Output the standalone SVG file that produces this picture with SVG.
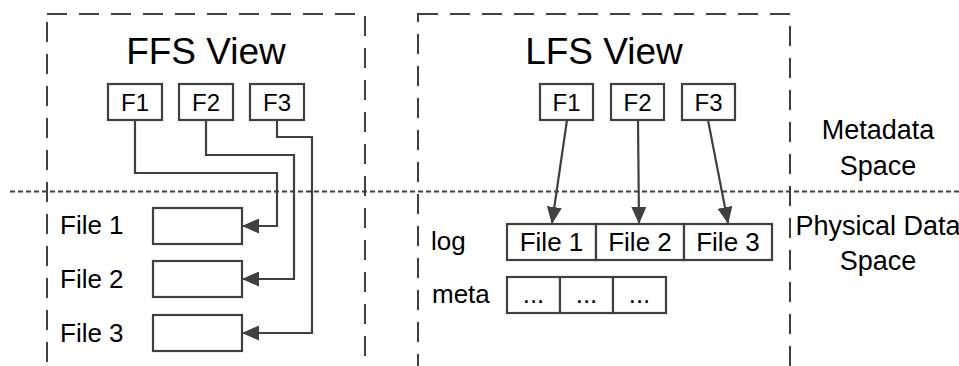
<svg xmlns="http://www.w3.org/2000/svg" width="959" height="366" viewBox="0 0 959 366">
  <style>
    text { font-family: "Liberation Sans", Arial, sans-serif; fill: #000; }
    .title { font-size: 37px; text-anchor: middle; }
    .fl { font-size: 24px; text-anchor: middle; }
    .lbl { font-size: 26px; }
    .side { font-size: 27px; text-anchor: middle; }
    .mid { text-anchor: middle; }
    .box { fill: #fff; stroke: #404040; stroke-width: 2.2; }
    .frame { fill: none; stroke: #404040; stroke-width: 2; stroke-dasharray: 20 12; }
    .divider { fill: none; stroke: #404040; stroke-width: 2; stroke-dasharray: 5 3; }
    .conn { fill: none; stroke: #404040; stroke-width: 2.2; marker-end: url(#arrow); }
  </style>
  <defs>
    <marker id="arrow" markerUnits="userSpaceOnUse" markerWidth="17" markerHeight="15" refX="16" refY="7.5" orient="auto">
      <path d="M0,0 L17,7.5 L0,15 Z" fill="#404040"/>
    </marker>
  </defs>

  <rect width="959" height="366" fill="#fff"/>

  <!-- view frames and the metadata / physical data boundary -->
  <g id="frames">
    <rect class="frame" x="47" y="14" width="318" height="400"/>
    <rect class="frame" x="418" y="14" width="372" height="400"/>
    <path class="divider" d="M10,191.5 H959"/>
  </g>

  <!-- FFS view -->
  <g id="ffs-title"><text class="title" x="206" y="64">FFS View</text></g>
  <g id="ffs-f1"><rect class="box" x="108" y="84" width="54" height="36"/><text class="fl" x="135" y="111">F1</text></g>
  <g id="ffs-f2"><rect class="box" x="179" y="84" width="54" height="36"/><text class="fl" x="206" y="111">F2</text></g>
  <g id="ffs-f3"><rect class="box" x="250" y="84" width="54" height="36"/><text class="fl" x="277" y="111">F3</text></g>
  <g id="ffs-file1"><text class="lbl" x="60" y="234">File 1</text><rect class="box" x="153" y="208" width="89" height="36"/></g>
  <g id="ffs-file2"><text class="lbl" x="60" y="288">File 2</text><rect class="box" x="153" y="261" width="89" height="36"/></g>
  <g id="ffs-file3"><text class="lbl" x="60" y="342">File 3</text><rect class="box" x="153" y="315" width="89" height="36"/></g>

  <!-- LFS view -->
  <g id="lfs-title"><text class="title" x="604" y="64">LFS View</text></g>
  <g id="lfs-f1"><rect class="box" x="540" y="84" width="53" height="36"/><text class="fl" x="566.5" y="111">F1</text></g>
  <g id="lfs-f2"><rect class="box" x="611" y="84" width="53" height="36"/><text class="fl" x="637.5" y="111">F2</text></g>
  <g id="lfs-f3"><rect class="box" x="682" y="84" width="53" height="36"/><text class="fl" x="708.5" y="111">F3</text></g>
  <g id="lfs-log">
    <text class="lbl" x="431" y="250">log</text>
    <rect class="box" x="507" y="224" width="89" height="36"/>
    <rect class="box" x="596" y="224" width="88" height="36"/>
    <rect class="box" x="684" y="224" width="88" height="36"/>
    <text class="lbl mid" x="551.5" y="251">File 1</text>
    <text class="lbl mid" x="640" y="251">File 2</text>
    <text class="lbl mid" x="728" y="251">File 3</text>
  </g>
  <g id="lfs-meta">
    <text class="lbl" x="432" y="303">meta</text>
    <rect class="box" x="507" y="277" width="53" height="36"/>
    <rect class="box" x="560" y="277" width="53" height="36"/>
    <rect class="box" x="613" y="277" width="53" height="36"/>
    <text class="lbl mid" x="533.5" y="303">...</text>
    <text class="lbl mid" x="586.5" y="303">...</text>
    <text class="lbl mid" x="639.5" y="303">...</text>
  </g>

  <!-- space labels -->
  <g id="metadata-space">
    <text class="side" x="878" y="139">Metadata</text>
    <text class="side" x="878" y="175">Space</text>
  </g>
  <g id="physical-space">
    <text class="side" x="878" y="235">Physical Data</text>
    <text class="side" x="878" y="270">Space</text>
  </g>

  <!-- connectors -->
  <g id="connectors">
    <path class="conn" d="M135,120 V173 H277 V226 H243"/>
    <path class="conn" d="M206,120 V155 H294 V279 H243"/>
    <path class="conn" d="M277,120 V137 H312 V333 H243"/>
    <path class="conn" d="M567,120 L552,223"/>
    <path class="conn" d="M638,120 L639,223"/>
    <path class="conn" d="M708,120 L728,223"/>
  </g>
</svg>
